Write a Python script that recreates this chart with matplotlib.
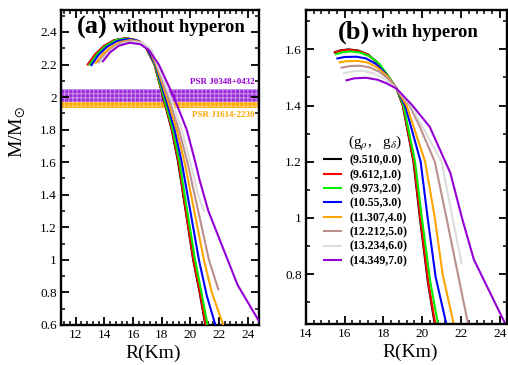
#!/usr/bin/env python3
"""Mass-radius curves with and without hyperons for several (g_rho, g_delta)."""

import matplotlib

matplotlib.use("Agg")

import matplotlib.pyplot as plt
from matplotlib.ticker import AutoMinorLocator, FuncFormatter, MultipleLocator

plt.rcParams["font.family"] = ["Liberation Serif", "DejaVu Serif"]
plt.rcParams["mathtext.fontset"] = "stix"
plt.rcParams["hatch.linewidth"] = 0.8

COUPLINGS = ["(9.510,0.0)", "(9.612,1.0)", "(9.973,2.0)", "(10.55,3.0)",
             "(11.307,4.0)", "(12.212,5.0)", "(13.234,6.0)", "(14.349,7.0)"]
COLORS = ["#000000", "#ff0000", "#00ee00", "#0000ff",
          "#ffa500", "#bc8f8f", "#dcdcdc", "#9400d3"]

# panel (a): without hyperons
R_A = [
    [12.9, 13.4, 14.0, 14.7, 15.5, 16.2, 16.9, 17.5, 18.1, 18.7, 19.15, 19.5, 19.85, 20.2, 20.65, 21.05],
    [12.84, 13.35, 13.95, 14.65, 15.45, 16.2, 16.9, 17.5, 18.12, 18.72, 19.18, 19.52, 19.87, 20.22, 20.67, 21.08],
    [12.98, 13.5, 14.1, 14.8, 15.55, 16.25, 16.95, 17.52, 18.15, 18.78, 19.25, 19.6, 19.97, 20.33, 20.78, 21.2],
    [13.1, 13.6, 14.2, 14.9, 15.7, 16.4, 17.0, 17.56, 18.25, 18.9, 19.4, 19.8, 20.2, 20.6, 21.15, 21.75],
    [13.4, 13.9, 14.5, 15.2, 15.8, 16.5, 17.1, 17.6, 18.35, 19.05, 19.6, 20.05, 20.5, 20.95, 21.5, 22.3],
    [13.6, 14.1, 14.7, 15.3, 15.9, 16.6, 17.2, 17.65, 18.45, 19.2, 19.8, 20.3, 20.8, 21.3, 21.95],
    [13.75, 14.25, 14.8, 15.4, 16.0, 16.7, 17.3, 17.7, 18.6, 19.4, 20.0, 20.55, 20.95],
    [13.9, 14.4, 15.0, 15.76, 16.5, 17.1, 17.8, 18.85, 19.75, 20.35, 20.65, 21.26, 23.3, 24.95],
]
M_A = [
    [2.205, 2.265, 2.315, 2.35, 2.362, 2.35, 2.305, 2.2, 2.0, 1.8, 1.6, 1.4, 1.2, 1.0, 0.8, 0.6],
    [2.2, 2.262, 2.312, 2.348, 2.362, 2.35, 2.305, 2.2, 2.0, 1.8, 1.6, 1.4, 1.2, 1.0, 0.8, 0.6],
    [2.2, 2.265, 2.315, 2.35, 2.36, 2.348, 2.305, 2.2, 2.0, 1.8, 1.6, 1.4, 1.2, 1.0, 0.8, 0.6],
    [2.197, 2.26, 2.31, 2.345, 2.357, 2.345, 2.3, 2.2, 2.0, 1.8, 1.6, 1.4, 1.2, 1.0, 0.78, 0.6],
    [2.21, 2.265, 2.31, 2.34, 2.35, 2.34, 2.3, 2.2, 2.0, 1.8, 1.6, 1.4, 1.2, 1.0, 0.8, 0.6],
    [2.215, 2.265, 2.31, 2.337, 2.345, 2.335, 2.295, 2.2, 2.0, 1.8, 1.6, 1.4, 1.2, 1.0, 0.82],
    [2.22, 2.27, 2.31, 2.333, 2.34, 2.33, 2.29, 2.2, 2.0, 1.8, 1.6, 1.4, 1.3],
    [2.22, 2.275, 2.315, 2.334, 2.325, 2.29, 2.2, 2.0, 1.8, 1.6, 1.49, 1.3, 0.846, 0.6],
]

# panel (b): with hyperons
R_B = [
    [15.5, 15.8, 16.2, 16.7, 17.2, 17.7, 18.2, 18.68, 19.0, 19.55, 19.88, 20.3, 20.65],
    [15.5, 15.8, 16.2, 16.7, 17.2, 17.7, 18.2, 18.68, 19.01, 19.57, 19.9, 20.32, 20.68],
    [15.55, 15.9, 16.3, 16.8, 17.3, 17.8, 18.25, 18.68, 19.04, 19.63, 19.98, 20.42, 20.82],
    [15.63, 16.0, 16.6, 17.1, 17.6, 18.1, 18.68, 19.12, 19.92, 20.28, 20.69, 21.25],
    [15.75, 16.1, 16.7, 17.2, 17.7, 18.2, 18.68, 19.2, 20.15, 20.65, 21.05, 21.63],
    [15.84, 16.3, 16.8, 17.3, 17.8, 18.25, 18.68, 19.35, 19.88, 20.65, 21.25, 22.37],
    [15.97, 16.4, 16.9, 17.5, 18.1, 18.68, 19.42, 20.05, 21.0, 21.56, 22.03],
    [16.1, 16.5, 17.1, 17.7, 18.2, 18.68, 19.5, 20.39, 21.45, 22.05, 22.66, 24.3],
]
M_B = [
    [1.59, 1.597, 1.6, 1.596, 1.582, 1.553, 1.508, 1.46, 1.4, 1.2, 1.0, 0.767, 0.62],
    [1.588, 1.596, 1.599, 1.595, 1.581, 1.552, 1.507, 1.46, 1.4, 1.2, 1.0, 0.767, 0.62],
    [1.583, 1.59, 1.593, 1.589, 1.575, 1.548, 1.505, 1.46, 1.4, 1.2, 1.0, 0.77, 0.62],
    [1.568, 1.573, 1.574, 1.568, 1.549, 1.515, 1.46, 1.4, 1.2, 1.0, 0.79, 0.62],
    [1.554, 1.558, 1.559, 1.553, 1.535, 1.505, 1.46, 1.4, 1.2, 1.0, 0.8, 0.62],
    [1.535, 1.541, 1.542, 1.536, 1.52, 1.495, 1.46, 1.4, 1.324, 1.2, 1.0, 0.62],
    [1.515, 1.522, 1.524, 1.515, 1.493, 1.46, 1.4, 1.32, 1.2, 1.0, 0.838],
    [1.49, 1.497, 1.499, 1.492, 1.478, 1.46, 1.4, 1.324, 1.16, 1.0, 0.852, 0.62],
]

# pulsar mass bands
PSR_J0348 = (1.97, 2.05)
PSR_J1614 = (1.93, 1.97)


def style_axis(ax, xlim, ylim, xmajor, ymajor):
    ax.set_xlim(*xlim)
    ax.set_ylim(*ylim)
    ax.xaxis.set_major_locator(MultipleLocator(xmajor))
    ax.yaxis.set_major_locator(MultipleLocator(ymajor))
    ax.xaxis.set_minor_locator(AutoMinorLocator(5))
    ax.yaxis.set_minor_locator(AutoMinorLocator(2))
    fmt = FuncFormatter(lambda v, _: f"{v:g}")
    ax.xaxis.set_major_formatter(fmt)
    ax.yaxis.set_major_formatter(fmt)
    ax.tick_params(which="both", direction="in", top=True, right=True, labelsize=9.5)
    ax.tick_params(which="major", length=6, width=1.3, pad=3)
    ax.tick_params(which="minor", length=3, width=1.1)
    for spine in ax.spines.values():
        spine.set_linewidth(1.7)
    ax.set_xlabel("R(Km)", fontsize=14)


fig = plt.figure(figsize=(5.08, 3.65), dpi=100)
ax_a = fig.add_axes([0.120, 0.1096, 0.390, 0.863])
ax_b = fig.add_axes([0.602, 0.1123, 0.396, 0.860])

for rs, ms, color in zip(R_A, M_A, COLORS):
    ax_a.plot(rs, ms, color=color, linewidth=1.5, zorder=3)
ax_a.axhspan(*PSR_J0348, facecolor="#9a2bd6", edgecolor="#c98cf0",
             hatch="++++", linewidth=0, zorder=1)
ax_a.axhspan(*PSR_J1614, facecolor="#ffa500", edgecolor="#ffcc66",
             hatch="++++", linewidth=0, zorder=1)
ax_a.text(0.975, 2.09, "PSR J0348+0432", transform=ax_a.get_yaxis_transform(),
          ha="right", va="center", fontsize=6.5, fontweight="bold", color="#9400d3")
ax_a.text(0.975, 1.89, "PSR J1614-2230", transform=ax_a.get_yaxis_transform(),
          ha="right", va="center", fontsize=6.5, fontweight="bold", color="#ffa500")
style_axis(ax_a, (10.97, 24.8), (0.6, 2.535), 2, 0.2)
ax_a.set_ylabel(r"M/M$_{\odot}$", fontsize=14)
ax_a.yaxis.set_label_coords(-0.165, 0.613)
ax_a.xaxis.set_label_coords(0.467, -0.062)
ax_a.text(0.08, 0.944, "(a)", transform=ax_a.transAxes, fontsize=19,
          fontweight="bold", va="center")
ax_a.text(0.263, 0.944, "without hyperon", transform=ax_a.transAxes, fontsize=13.4,
          fontweight="bold", va="center")

handles = []
for rs, ms, color, label in zip(R_B, M_B, COLORS, COUPLINGS):
    (line,) = ax_b.plot(rs, ms, color=color, linewidth=1.5, label=label)
    handles.append(line)
style_axis(ax_b, (14.0, 24.37), (0.622, 1.74), 2, 0.2)
ax_b.xaxis.set_label_coords(0.52, -0.062)
ax_b.text(0.157, 0.928, "(b)", transform=ax_b.transAxes, fontsize=19,
          fontweight="bold", va="center")
ax_b.text(0.328, 0.928, "with hyperon", transform=ax_b.transAxes, fontsize=13.4,
          fontweight="bold", va="center")
ax_b.text(0.209, 0.576, r"(g$_\rho$,   g$_\delta$)", transform=ax_b.transAxes,
          fontsize=11, va="center")
ax_b.legend(handles=handles, loc="upper left", bbox_to_anchor=(0.09, 0.54),
            frameon=False, borderpad=0, borderaxespad=0, handlelength=1.45,
            handletextpad=0.75, labelspacing=0.2,
            prop={"size": 8.5, "weight": "bold", "family": "Liberation Serif"})

fig.savefig("out.png", dpi=100)
